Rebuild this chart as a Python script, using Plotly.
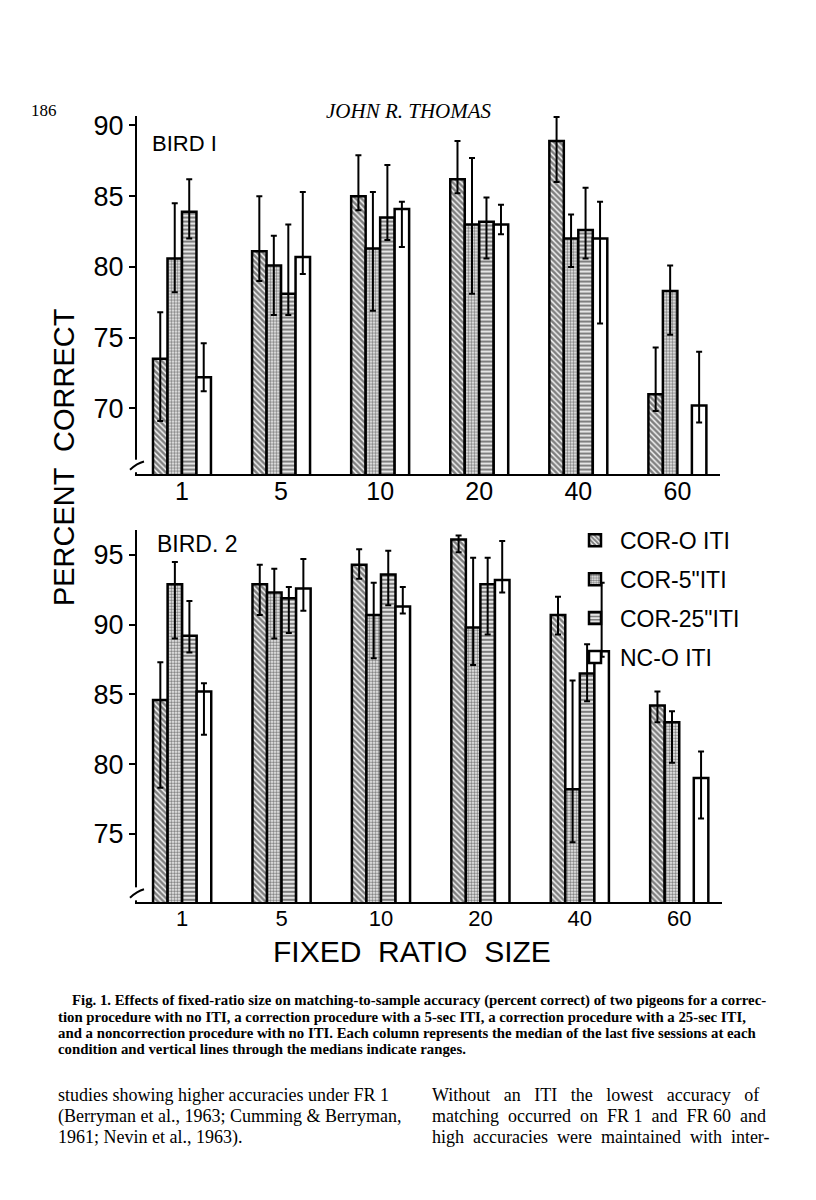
import plotly.graph_objects as go

# ---------------- data ----------------
fr_labels = ["1", "5", "10", "20", "40", "60"]
conditions = ["COR-O ITI", "COR-5\"ITI", "COR-25\"ITI", "NC-O ITI"]

# Bird 1 : medians, range maxima, range minima
b1_cor0_med = [73.5, 81.1, 85.0, 86.2, 88.9, 71.0]
b1_cor0_hi = [76.8, 85.0, 87.9, 88.9, 90.6, 74.3]
b1_cor0_lo = [69.1, 79.0, 84.0, 85.2, 86.0, 69.8]

b1_cor5_med = [80.6, 80.1, 81.3, 83.0, 82.0, 78.3]
b1_cor5_hi = [84.5, 82.2, 85.3, 87.7, 83.7, 80.1]
b1_cor5_lo = [78.2, 76.6, 76.9, 78.1, 80.0, 75.2]

b1_cor25_med = [83.9, 78.1, 83.5, 83.2, 82.6, None]
b1_cor25_hi = [86.2, 83.0, 87.2, 84.9, 85.6, None]
b1_cor25_lo = [82.0, 76.6, 81.9, 80.6, 80.6, None]

b1_nc0_med = [72.2, 80.7, 84.1, 83.0, 82.0, 70.2]
b1_nc0_hi = [74.6, 85.3, 84.6, 84.4, 84.6, 74.0]
b1_nc0_lo = [71.2, 79.5, 81.4, 82.3, 76.0, 69.0]

# Bird 2
b2_cor0_med = [84.6, 92.9, 94.3, 96.1, 90.7, 84.2]
b2_cor0_hi = [87.3, 94.3, 95.4, 96.4, 92.0, 85.2]
b2_cor0_lo = [78.3, 90.7, 93.3, 95.2, 89.3, 83.0]

b2_cor5_med = [92.9, 92.3, 90.7, 89.8, 78.2, 83.0]
b2_cor5_hi = [94.5, 94.0, 93.0, 94.8, 86.0, 83.8]
b2_cor5_lo = [89.0, 89.0, 87.6, 87.1, 74.4, 80.1]

b2_cor25_med = [89.2, 91.9, 93.6, 92.9, 86.5, None]
b2_cor25_hi = [91.7, 92.7, 95.3, 94.8, 88.6, None]
b2_cor25_lo = [88.0, 89.4, 91.4, 89.3, 84.5, None]

b2_nc0_med = [85.2, 92.6, 91.3, 93.2, 88.1, 79.0]
b2_nc0_hi = [85.8, 94.7, 92.7, 96.0, 93.0, 80.9]
b2_nc0_lo = [82.1, 91.0, 90.8, 92.3, 87.7, 76.1]

bird1 = [(b1_cor0_med, b1_cor0_hi, b1_cor0_lo), (b1_cor5_med, b1_cor5_hi, b1_cor5_lo),
         (b1_cor25_med, b1_cor25_hi, b1_cor25_lo), (b1_nc0_med, b1_nc0_hi, b1_nc0_lo)]
bird2 = [(b2_cor0_med, b2_cor0_hi, b2_cor0_lo), (b2_cor5_med, b2_cor5_hi, b2_cor5_lo),
         (b2_cor25_med, b2_cor25_hi, b2_cor25_lo), (b2_nc0_med, b2_nc0_hi, b2_nc0_lo)]

patterns = [
    dict(shape="\\", fgcolor="black", bgcolor="white", size=4, solidity=0.65),
    dict(shape=".", fgcolor="black", bgcolor="white", size=3, solidity=0.6),
    dict(shape="-", fgcolor="black", bgcolor="white", size=4, solidity=0.6),
    dict(shape="", fgcolor="black", bgcolor="white"),
]

# the page body has an 8px margin: figure is offset by 8px
OFF = 8
W, H = 800, 1184
px = lambda v: (v - OFF) / W
py = lambda v: 1 - (v - OFF) / H

CHART_FONT = "Liberation Sans, Arial, sans-serif"
SERIF = "Liberation Serif, DejaVu Serif, serif"

fig = go.Figure()
x_idx = list(range(len(fr_labels)))


def diff(a, b):
    return [None if (p is None or q is None) else round(p - q, 2) for p, q in zip(a, b)]


for bird, (xa, ya, show) in ((bird1, ("x", "y", False)), (bird2, ("x2", "y2", True))):
    for k, (med, hi, lo) in enumerate(bird):
        fig.add_trace(go.Bar(
            x=x_idx, y=med, name=conditions[k], xaxis=xa, yaxis=ya,
            showlegend=show, legendgroup=conditions[k],
            marker=dict(color="white", pattern=patterns[k], line=dict(color="black", width=2.5)),
            error_y=dict(type="data", symmetric=False, array=diff(hi, med), arrayminus=diff(med, lo),
                         color="black", thickness=2, width=3),
        ))

xrange = [-0.454, 5.43]


def xaxis_cfg(size, standoff):
    return dict(range=xrange, tickmode="array", tickvals=x_idx, ticktext=fr_labels,
                showline=True, linecolor="black", linewidth=2, ticks="", showgrid=False,
                zeroline=False, ticklabelstandoff=standoff,
                tickfont=dict(family=CHART_FONT, size=size, color="black"))


common_y = dict(showline=True, linecolor="black", linewidth=2, ticks="outside", ticklen=6,
                tickwidth=2, tickcolor="black", showgrid=False, zeroline=False,
                tickfont=dict(family=CHART_FONT, size=27, color="black"))

fig.update_layout(
    width=W, height=H, margin=dict(l=0, r=0, t=0, b=0), autosize=False,
    paper_bgcolor="white", plot_bgcolor="white",
    barmode="group", bargap=0.415, bargroupgap=0,
    xaxis=dict(domain=[px(137), px(720)], anchor="y", **xaxis_cfg(25, -6)),
    yaxis=dict(domain=[py(471), py(111)], anchor="x", range=[65.35, 90.7],
               tickvals=[70, 75, 80, 85, 90], **common_y),
    xaxis2=dict(domain=[px(137), px(722)], anchor="y2", **xaxis_cfg(22, -5)),
    yaxis2=dict(domain=[py(901), py(527)], anchor="x2", range=[70.1, 96.8],
                tickvals=[75, 80, 85, 90, 95], **common_y),
    legend=dict(x=px(570), y=py(516), xanchor="left", yanchor="top",
                font=dict(family=CHART_FONT, size=23, color="black"),
                bgcolor="rgba(0,0,0,0)", tracegroupgap=6, itemwidth=40),
)

annotations = [
    dict(text="186", x=px(29), y=py(106), xanchor="left", yanchor="middle",
         font=dict(family=SERIF, size=17, color="black")),
    dict(text="<i>JOHN R. THOMAS</i>", x=px(409), y=py(106), xanchor="center", yanchor="middle",
         font=dict(family=SERIF, size=21, color="black")),
    dict(text="BIRD I", x=px(150), y=py(139), xanchor="left", yanchor="middle",
         font=dict(family=CHART_FONT, size=22, color="black")),
    dict(text="BIRD. 2", x=px(155), y=py(541), xanchor="left", yanchor="middle",
         font=dict(family=CHART_FONT, size=23, color="black")),
    dict(text="PERCENT  CORRECT", x=px(64), y=py(454), xanchor="center", yanchor="middle",
         textangle=-90, font=dict(family=CHART_FONT, size=29, color="black")),
    dict(text="FIXED  RATIO  SIZE", x=px(412), y=py(950), xanchor="center", yanchor="middle",
         font=dict(family=CHART_FONT, size=30, color="black")),
]

caption = [
    (70, "Fig. 1. Effects of fixed-ratio size on matching-to-sample accuracy (percent correct) of two pigeons for a correc-"),
    (56, "tion procedure with no ITI, a correction procedure with a 5-sec ITI, a correction procedure with a 25-sec ITI,"),
    (56, "and a noncorrection procedure with no ITI. Each column represents the median of the last five sessions at each"),
    (56, "condition and vertical lines through the medians indicate ranges."),
]
for i, (x0, line) in enumerate(caption):
    annotations.append(dict(text="<b>" + line + "</b>", x=px(x0), y=py(1000 + 16 * i), xanchor="left",
                            yanchor="middle", font=dict(family=SERIF, size=14.8, color="black")))

left_col = ["studies showing higher accuracies under FR 1",
            "(Berryman et al., 1963; Cumming & Berryman,",
            "1961; Nevin et al., 1963)."]
right_col = ["Without   an   ITI   the   lowest   accuracy   of",
             "matching  occurred  on  FR 1  and  FR 60  and",
             "high  accuracies  were  maintained  with  inter-"]
for i, line in enumerate(left_col):
    annotations.append(dict(text=line, x=px(56), y=py(1095 + 21 * i), xanchor="left", yanchor="middle",
                            font=dict(family=SERIF, size=18, color="black")))
for i, line in enumerate(right_col):
    annotations.append(dict(text=line, x=px(430), y=py(1095 + 21 * i), xanchor="left", yanchor="middle",
                            font=dict(family=SERIF, size=18, color="black")))

for a in annotations:
    a.setdefault("xref", "paper")
    a.setdefault("yref", "paper")
    a.setdefault("showarrow", False)
fig.update_layout(annotations=annotations)

# axis-break marks at the bottom of both y axes
shapes = []
for xr, yr in (("x domain", "y domain"), ("x2 domain", "y2 domain")):
    shapes.append(dict(type="line", xref=xr, yref=yr, x0=0, x1=0, y0=0.005, y1=0.04,
                       line=dict(color="white", width=4), layer="above"))
    shapes.append(dict(type="path", xref=xr, yref=yr,
                       path="M -0.012 0.012 Q 0 0.03 0.012 0.035", line=dict(color="black", width=2),
                       layer="above"))
fig.update_layout(shapes=shapes)

fig.write_html("out.html")
